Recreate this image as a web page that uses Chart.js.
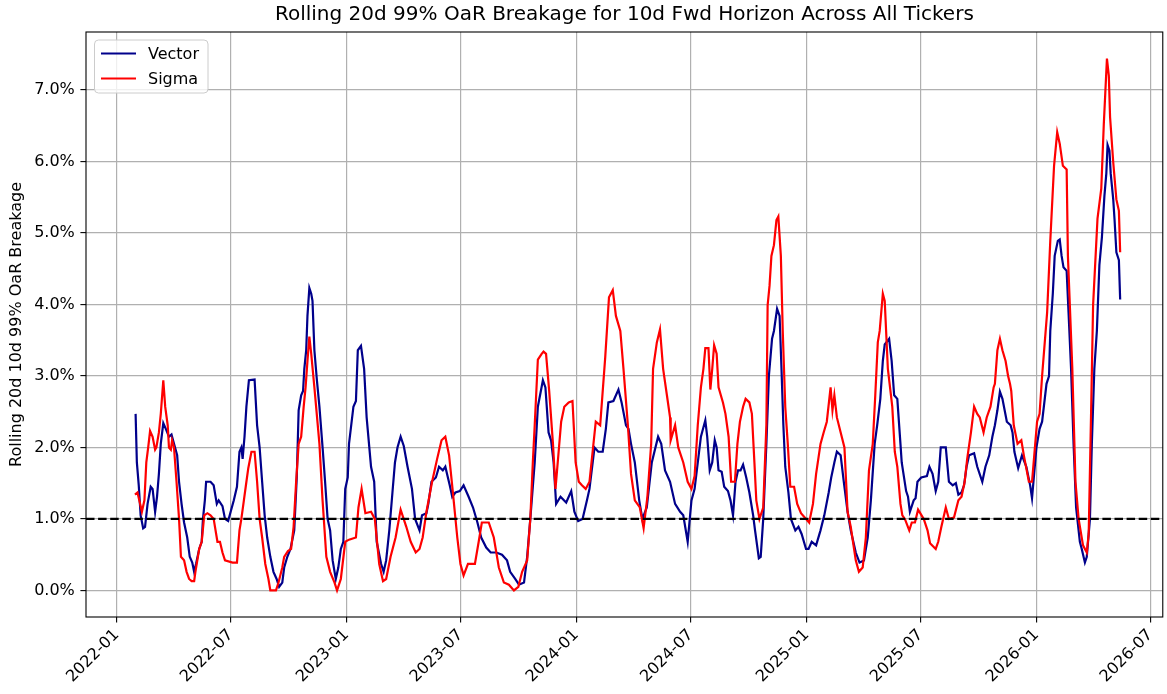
<!DOCTYPE html>
<html>
<head>
<meta charset="utf-8">
<title>Rolling 20d 99% OaR Breakage</title>
<script src="https://cdn.jsdelivr.net/npm/chart.js@4.4.1/dist/chart.umd.min.js"></script>
<style>
  html, body { margin: 0; padding: 0; background: #ffffff; }
  #wrap { width: 1167px; height: 694px; }
</style>
</head>
<body>
<div id="wrap"><canvas id="chart" width="1167" height="694"></canvas></div>
<script>
// Day offsets are counted from this date.
const BASE_DATE = Date.UTC(2022, 0, 1);
const DAY_MS = 86400000;

const TITLE = 'Rolling 20d 99% OaR Breakage for 10d Fwd Horizon Across All Tickers';
const Y_LABEL = 'Rolling 20d 10d 99% OaR Breakage';

const xTickLabels = ['2022-01', '2022-07', '2023-01', '2023-07', '2024-01', '2024-07', '2025-01', '2025-07', '2026-01', '2026-07'];
const yTickValues = [0, 1, 2, 3, 4, 5, 6, 7];
const THRESHOLD = 1.0;

// Vector: days since 2022-01-01 and breakage rate in %
const vectorDay = [30,32,35,38,42,45,49,54,57,61,64,67,70,74,78,83,87,91,96,99,103,107,112,116,120,123,126,131,135,137,140,142,149,154,159,162,168,172,177,181,186,191,195,198,200,203,206,210,219,223,227,231,235,239,244,249,254,258,263,266,271,276,282,286,289,293,296,
  298,301,303,306,309,311,314,318,322,327,331,335,339,343,348,352,356,360,363,367,369,376,380,383,388,393,397,404,409,413,420,424,428,433,438,442,446,451,456,462,469,474,481,485,492,495,500,507,512,518,522,529,533,538,545,551,559,566,573,579,587,594,603,612,620,
  625,633,639,647,652,657,664,669,677,681,686,690,694,698,705,714,722,727,733,740,747,751,759,765,772,777,781,789,797,802,809,813,817,823,830,835,842,850,860,865,871,879,887,895,900,907,913,918,928,935,
  938,942,946,950,953,956,961,965,971,975,979,983,987,991,995,1000,1005,1011,1014,1020,1023,1027,1032,1036,1041,1044,1049,1053,1056,1059,1062,1067,1071,1078,1083,1088,1095,1099,1104,1111,1118,1124,1131,1135,1140,1144,1150,1155,1161,1166,1174,1180,1187,1193,1198,1204,1208,1213,1217,1220,1227,1231,1235,1240,
  1245,1247,1254,1257,1260,1266,1269,1272,1278,1287,1291,1296,1301,1305,1309,1317,1322,1328,1333,1337,1342,1346,1350,1354,1362,1367,1375,1380,1386,1391,1395,1399,1403,1407,1414,1420,1423,1426,1432,1438,1445,1451,1454,1461,1466,1470,1477,1481,1483,1487,1490,1495,1498,1501,1504,1509,1512,1516,1520,1524,1530,1533,1538,1541,1546,1549,1553,1557,1561,1565,1569,1572,1574,1577,1579,1583,1585,1588,1592,1594];
const vectorPct = [2.47,1.79,1.47,1.05,0.87,0.89,1.21,1.45,1.42,1.10,1.31,1.63,2.05,2.34,2.26,2.15,2.18,2.05,1.89,1.52,1.21,0.95,0.74,0.47,0.39,0.26,0.37,0.58,0.68,1.00,1.26,1.52,1.52,1.47,1.21,1.26,1.18,1.00,0.97,1.10,1.26,1.45,1.94,2.00,1.84,2.15,2.57,2.94,2.95,2.31,2.00,1.52,1.05,0.74,0.47,0.26,0.16,0.05,0.11,0.32,0.47,0.58,0.84,1.58,2.52,2.73,2.79,
  3.10,3.36,3.84,4.23,4.15,4.05,3.36,2.94,2.57,2.00,1.52,1.00,0.84,0.42,0.16,0.32,0.58,0.68,1.42,1.58,2.05,2.57,2.65,3.36,3.42,3.10,2.42,1.73,1.52,0.68,0.37,0.26,0.42,0.84,1.37,1.79,2.00,2.15,2.02,1.73,1.42,1.00,0.84,1.05,1.08,1.21,1.52,1.58,1.73,1.68,1.73,1.47,1.31,1.37,1.39,1.47,1.31,1.16,0.95,0.74,0.60,0.53,0.53,0.50,0.42,
  0.26,0.16,0.08,0.11,0.47,1.00,1.79,2.57,2.94,2.84,2.21,2.10,1.79,1.21,1.31,1.23,1.39,1.10,0.97,1.00,1.26,1.42,2.00,1.94,1.94,2.26,2.63,2.65,2.81,2.63,2.31,2.26,2.05,1.79,1.26,1.00,1.16,1.79,2.15,2.05,1.68,1.52,1.21,1.10,1.05,0.68,1.26,1.42,2.15,2.38,
  2.15,1.68,1.79,2.10,2.00,1.68,1.66,1.45,1.39,1.26,1.05,1.52,1.68,1.68,1.76,1.58,1.37,1.05,0.84,0.45,0.47,1.00,2.05,3.00,3.52,3.63,3.94,3.84,3.10,2.31,1.73,1.37,1.00,0.84,0.89,0.79,0.58,0.58,0.68,0.63,0.84,1.05,1.37,1.58,1.79,1.94,1.89,1.52,1.10,0.84,0.53,0.39,0.42,0.74,1.26,2.05,2.31,2.68,3.21,3.44,3.52,3.21,2.73,2.68,
  2.05,1.79,1.39,1.31,1.10,1.26,1.29,1.52,1.58,1.60,1.73,1.63,1.39,1.52,2.00,2.00,1.52,1.47,1.50,1.34,1.37,1.47,1.73,1.89,1.92,1.73,1.52,1.73,1.89,2.15,2.31,2.52,2.78,2.68,2.36,2.31,2.21,1.94,1.71,1.89,1.73,1.47,1.29,2.00,2.26,2.36,2.89,3.00,3.63,4.15,4.68,4.89,4.91,4.68,4.52,4.47,3.89,3.10,2.05,1.16,0.68,0.58,0.39,0.47,1.00,2.05,3.10,3.63,4.55,4.94,5.52,5.83,6.23,6.15,5.83,5.47,5.20,4.73,4.62,4.07];

// Sigma: days since 2022-01-01 and breakage rate in %
const sigmaDay = [29,33,40,44,47,50,53,57,61,63,67,70,74,77,81,83,86,88,91,95,99,102,107,111,115,119,123,125,131,135,139,144,149,154,160,164,168,172,184,191,195,198,202,206,209,214,219,223,227,231,236,241,244,253,257,263,266,272,277,281,285,289,293,297,
  300,303,306,309,314,322,327,333,339,346,350,356,363,369,380,384,389,395,404,410,417,423,428,435,443,451,460,467,475,481,486,492,501,509,516,522,528,534,541,546,551,558,569,575,580,591,599,607,615,623,
  631,638,644,652,657,661,664,669,675,678,682,687,693,697,702,706,711,718,724,729,734,739,745,751,761,768,776,782,788,793,800,805,812,817,823,831,837,843,849,852,858,863,868,874,879,880,887,892,900,907,913,918,923,928,932,935,
  940,943,946,949,953,956,963,967,972,976,982,986,990,995,999,1005,1009,1013,1016,1021,1027,1032,1034,1037,1040,1044,1048,1051,1055,1058,1062,1066,1070,1076,1081,1087,1095,1100,1106,1111,1118,1123,1128,1134,1137,1140,1144,1156,1161,1166,1174,1179,1185,1190,1195,1201,1205,1209,1212,1217,1220,1225,1232,1236,1240,
  1245,1248,1252,1259,1263,1268,1273,1282,1288,1292,1301,1305,1310,1317,1322,1330,1337,1342,1347,1351,1357,1362,1367,1371,1377,1382,1388,1393,1395,1399,1403,1407,1412,1416,1419,1421,1425,1431,1437,1441,1449,1454,1458,1462,1466,1470,1478,1483,1489,1494,1498,1503,1509,1511,1518,1523,1528,1535,1541,1544,1548,1551,1555,1558,1564,1568,1573,1576,1578,1583,1588,1592,1594];
const sigmaPct = [1.34,1.37,1.10,1.26,1.79,2.00,2.23,2.15,1.97,2.00,2.21,2.47,2.94,2.57,2.31,2.00,1.97,2.10,2.00,1.52,1.00,0.47,0.42,0.26,0.16,0.13,0.13,0.26,0.58,0.68,1.05,1.08,1.05,1.00,0.68,0.68,0.53,0.42,0.39,0.39,0.84,1.00,1.26,1.52,1.71,1.94,1.94,1.52,1.00,0.74,0.37,0.16,0.00,0.00,0.11,0.32,0.47,0.55,0.58,0.89,1.52,2.05,2.15,2.57,
  2.84,3.21,3.55,3.31,2.84,2.05,1.26,0.47,0.26,0.11,0.00,0.16,0.68,0.71,0.74,1.16,1.42,1.08,1.10,1.00,0.37,0.13,0.16,0.47,0.74,1.13,0.89,0.68,0.53,0.58,0.74,1.10,1.52,1.84,2.10,2.15,1.89,1.37,0.74,0.37,0.21,0.37,0.37,0.68,0.95,0.95,0.74,0.32,0.11,0.08,
  0.00,0.05,0.26,0.42,1.00,1.79,2.31,3.23,3.31,3.34,3.31,2.79,2.05,1.42,1.94,2.36,2.57,2.63,2.65,1.79,1.52,1.47,1.42,1.52,2.36,2.31,3.26,4.10,4.20,3.84,3.63,3.10,2.31,1.63,1.26,1.16,0.87,1.31,2.05,3.10,3.47,3.65,3.10,2.73,2.42,2.10,2.31,2.00,1.79,1.52,1.42,1.60,2.31,2.84,3.10,3.39,
  3.39,2.81,3.10,3.43,3.31,2.84,2.63,2.47,2.15,1.52,1.52,2.05,2.36,2.57,2.68,2.63,2.47,1.79,1.26,1.00,1.16,2.31,3.99,4.26,4.68,4.83,5.18,5.23,4.68,3.63,2.57,2.05,1.45,1.45,1.21,1.08,1.00,0.95,1.21,1.63,2.05,2.21,2.36,2.84,2.52,2.73,2.42,2.00,1.10,0.89,0.42,0.26,0.32,0.74,1.68,2.05,2.73,3.47,3.63,4.15,4.05,3.10,2.57,1.94,1.73,
  1.21,1.05,1.00,0.84,0.95,0.95,1.13,1.00,0.84,0.66,0.58,0.68,0.89,1.16,1.00,1.02,1.26,1.31,1.52,1.84,2.21,2.57,2.47,2.42,2.21,2.42,2.57,2.84,2.89,3.36,3.52,3.36,3.21,3.00,2.89,2.79,2.31,2.05,2.10,1.89,1.52,1.52,1.94,2.36,2.47,3.00,3.89,4.89,5.94,6.41,6.25,5.94,5.89,4.68,3.10,1.52,1.00,0.63,0.53,0.79,2.57,3.99,4.68,5.20,5.62,6.52,7.44,7.20,6.62,5.99,5.47,5.31,4.73];

// Axis limits (days / percent)
const X_MIN = -48.8, X_MAX = 1661.7;
const Y_MIN = -0.372, Y_MAX = 7.812;

const FONT = 'DejaVu Sans';

function monthToDay(label) {
  const [y, m] = label.split('-').map(Number);
  return (Date.UTC(y, m - 1, 1) - BASE_DATE) / DAY_MS;
}
const xTickDays = xTickLabels.map(monthToDay);

function toPoints(days, vals) {
  return days.map((d, i) => ({ x: d, y: vals[i] }));
}

// Closed axes frame (all four spines)
const framePlugin = {
  id: 'frame',
  afterDatasetsDraw(chart) {
    const { ctx, chartArea: a } = chart;
    ctx.save();
    ctx.strokeStyle = '#000000';
    ctx.lineWidth = 1.1;
    ctx.strokeRect(a.left, a.top, a.right - a.left, a.bottom - a.top);
    ctx.restore();
  }
};

// Legend box in the upper-left corner of the plot area
const legendPlugin = {
  id: 'cornerLegend',
  afterDraw(chart) {
    const { ctx, chartArea: a } = chart;
    const items = chart.data.datasets.filter(d => d.inLegend);
    const x0 = a.left + 8.5, y0 = a.top + 8, w = 113.5, h = 53, r = 4;
    ctx.save();
    ctx.beginPath();
    ctx.moveTo(x0 + r, y0);
    ctx.lineTo(x0 + w - r, y0);
    ctx.arcTo(x0 + w, y0, x0 + w, y0 + r, r);
    ctx.lineTo(x0 + w, y0 + h - r);
    ctx.arcTo(x0 + w, y0 + h, x0 + w - r, y0 + h, r);
    ctx.lineTo(x0 + r, y0 + h);
    ctx.arcTo(x0, y0 + h, x0, y0 + h - r, r);
    ctx.lineTo(x0, y0 + r);
    ctx.arcTo(x0, y0, x0 + r, y0, r);
    ctx.closePath();
    ctx.fillStyle = 'rgba(255,255,255,0.8)';
    ctx.fill();
    ctx.strokeStyle = '#cccccc';
    ctx.lineWidth = 1;
    ctx.stroke();
    ctx.font = '16px "' + FONT + '"';
    ctx.textBaseline = 'middle';
    ctx.textAlign = 'left';
    items.forEach((d, i) => {
      const yy = y0 + 13.5 + i * 25;
      ctx.beginPath();
      ctx.moveTo(x0 + 6.5, yy);
      ctx.lineTo(x0 + 41.5, yy);
      ctx.strokeStyle = d.borderColor;
      ctx.lineWidth = d.borderWidth;
      ctx.stroke();
      ctx.fillStyle = '#000000';
      ctx.fillText(d.label, x0 + 53.5, yy + 1);
    });
    ctx.restore();
  }
};

const gridStyle = {
  color: '#b0b0b0',
  lineWidth: 1.2,
  tickColor: '#000000',
  tickLength: 5.6,
  tickWidth: 1.1
};

new Chart(document.getElementById('chart'), {
  type: 'line',
  data: {
    datasets: [
      {
        label: 'threshold',
        data: [{ x: X_MIN, y: THRESHOLD }, { x: X_MAX, y: THRESHOLD }],
        borderColor: '#000000',
        borderWidth: 2.2,
        borderDash: [8.5, 3.6],
        pointRadius: 0,
        order: 0,
        inLegend: false
      },
      {
        label: 'Vector',
        data: toPoints(vectorDay, vectorPct),
        borderColor: '#00008b',
        borderWidth: 2.2,
        pointRadius: 0,
        tension: 0,
        order: 2,
        inLegend: true
      },
      {
        label: 'Sigma',
        data: toPoints(sigmaDay, sigmaPct),
        borderColor: '#ff0000',
        borderWidth: 2.2,
        pointRadius: 0,
        tension: 0,
        order: 1,
        inLegend: true
      }
    ]
  },
  options: {
    responsive: false,
    animation: false,
    devicePixelRatio: 1,
    events: [],
    layout: { padding: { left: 0, right: 1, top: 0, bottom: 0 } },
    plugins: {
      legend: { display: false },
      tooltip: { enabled: false },
      title: {
        display: true,
        fullSize: false,
        text: TITLE,
        color: '#000000',
        font: { family: FONT, size: 20, weight: 'normal' },
        padding: { top: 3, bottom: 5 }
      }
    },
    scales: {
      x: {
        type: 'linear',
        min: X_MIN,
        max: X_MAX,
        afterBuildTicks: s => { s.ticks = xTickDays.map(v => ({ value: v })); },
        afterFit: s => { s.height = 77; },
        ticks: {
          autoSkip: false,
          maxRotation: 45,
          minRotation: 45,
          padding: 3,
          color: '#000000',
          font: { family: FONT, size: 16 },
          callback: (v, i) => xTickLabels[i]
        },
        grid: gridStyle,
        border: { display: false }
      },
      y: {
        type: 'linear',
        min: Y_MIN,
        max: Y_MAX,
        afterBuildTicks: s => { s.ticks = yTickValues.map(v => ({ value: v })); },
        afterFit: s => { s.width = 86; },
        ticks: {
          padding: 5.6,
          color: '#000000',
          font: { family: FONT, size: 16 },
          callback: v => v.toFixed(1) + '%'
        },
        grid: gridStyle,
        border: { display: false },
        title: {
          display: true,
          text: Y_LABEL,
          color: '#000000',
          font: { family: FONT, size: 16 },
          padding: { top: 7.4, bottom: 0 }
        }
      }
    }
  },
  plugins: [framePlugin, legendPlugin]
});
</script>
</body>
</html>
